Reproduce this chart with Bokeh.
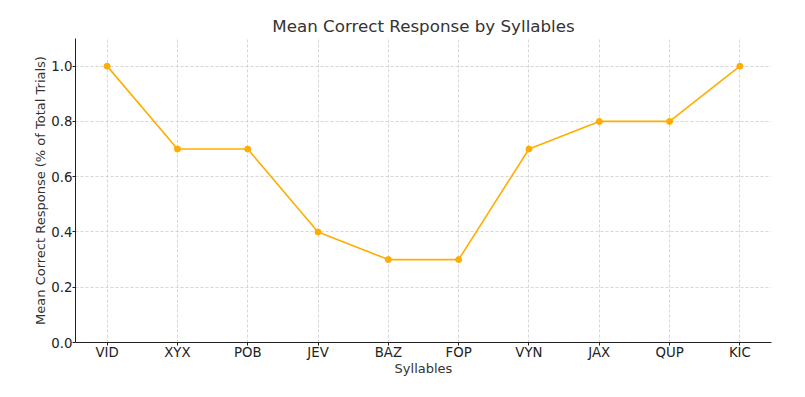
from bokeh.plotting import figure
from bokeh.models import FixedTicker, Range1d
from bokeh.embed import file_html
from bokeh.resources import INLINE

syllables = ["VID", "XYX", "POB", "JEV", "BAZ", "FOP", "VYN", "JAX", "QUP", "KIC"]
mean_correct = [1.0, 0.7, 0.7, 0.4, 0.3, 0.3, 0.7, 0.8, 0.8, 1.0]
y_ticks = [0.0, 0.2, 0.4, 0.6, 0.8, 1.0]

xs = list(range(len(syllables)))
FONT = "DejaVu Sans"
COLOR = "#FFAD00"

p = figure(width=805, height=397, output_backend="svg", toolbar_location=None,
           x_range=Range1d(-0.45, len(syllables) - 1 + 0.45), y_range=Range1d(0, 1.1),
           min_border_left=75, min_border_right=34, min_border_top=38, min_border_bottom=55)

p.title.text = "Mean Correct Response by Syllables"
p.title.align = "center"
p.title.text_font = FONT
p.title.text_font_size = "16.7px"
p.title.text_font_style = "normal"
p.title.text_color = "#333333"
p.title.standoff = 5

p.line(xs, mean_correct, line_color=COLOR, line_width=1.6)
p.scatter(xs, mean_correct, size=6, fill_color=COLOR, line_color=COLOR)

p.xaxis.ticker = FixedTicker(ticks=xs)
p.xaxis.major_label_overrides = {i: s for i, s in enumerate(syllables)}
p.yaxis.ticker = FixedTicker(ticks=y_ticks)
p.yaxis.major_label_overrides = {t: f"{t:.1f}" for t in y_ticks}

p.xaxis.axis_label = "Syllables"
p.yaxis.axis_label = "Mean Correct Response (% of Total Trials)"

for ax in (p.xaxis, p.yaxis):
    ax.axis_label_text_font = FONT
    ax.axis_label_text_font_size = "13px"
    ax.axis_label_text_font_style = "normal"
    ax.axis_label_text_color = "#333333"
    ax.major_label_text_font = FONT
    ax.major_label_text_font_size = "13.3px"
    ax.major_label_text_color = "#222222"
    ax.axis_line_color = "#222222"
    ax.major_tick_line_color = "#222222"
    ax.major_tick_in = 0
    ax.major_tick_out = 3
    ax.minor_tick_line_color = None

p.xaxis.major_label_standoff = -1
p.xaxis.axis_label_standoff = -2
p.yaxis.major_label_standoff = 0
p.yaxis.axis_label_standoff = 0

p.grid.grid_line_color = "#cccccc"
p.grid.grid_line_dash = "3 2"
p.grid.grid_line_width = 0.8
p.outline_line_color = None

open("out.html", "w").write(file_html(p, INLINE))
